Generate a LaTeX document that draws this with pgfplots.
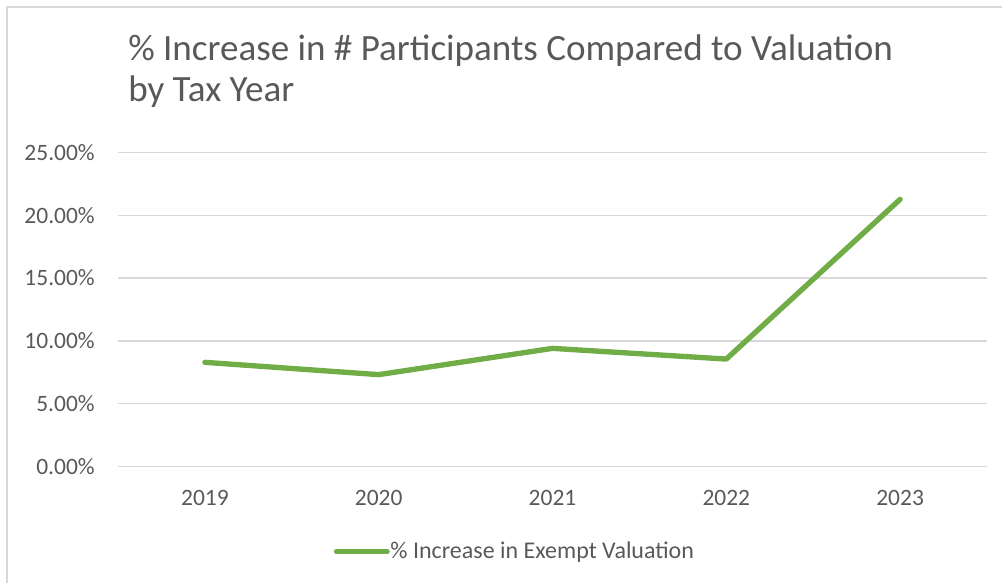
\documentclass[border=0pt]{standalone}
\usepackage{pgfplots}
\pgfplotsset{compat=1.18}
\usepackage{fontspec}
\setmainfont{Carlito}
\definecolor{txtgray}{HTML}{595959}
\definecolor{gridgray}{HTML}{D9D9D9}
\definecolor{exgreen}{HTML}{70AD47}
\begin{document}
\begin{tikzpicture}
\useasboundingbox (0,0) rectangle (751.5pt,437.25pt);
\draw[gridgray, line width=1pt] (5.25pt,0pt) -- (5.25pt,432pt) -- (751.5pt,432pt);
\node[anchor=base west, inner sep=0pt, text=txtgray, font=\fontsize{27.8pt}{32pt}\selectfont] at (96pt,391.7pt) {\% Increase in \# Participants Compared to Valuation};
\node[anchor=base west, inner sep=0pt, text=txtgray, font=\fontsize{27.8pt}{32pt}\selectfont] at (96pt,361pt) {by Tax Year};
\begin{axis}[
  at={(88.5pt,87.225pt)}, anchor=south west,
  width=651.75pt, height=235.8pt, scale only axis,
  xmin=-0.5, xmax=4.5, ymin=0, ymax=25,
  xtick={0,1,2,3,4},
  xticklabels={2019,2020,2021,2022,2023},
  ytick={0,5,10,15,20,25},
  yticklabel={\pgfmathprintnumber[fixed,fixed zerofill,precision=2]{\tick}\%},
  /pgf/number format/assume math mode=true,
  major tick length=0pt,
  axis line style={draw=none},
  ymajorgrids, grid style={gridgray, line width=0.9pt},
  tick label style={text=txtgray, font=\fontsize{17.6pt}{20pt}\selectfont},
  xticklabel style={anchor=north, inner sep=0pt, yshift=-17.25pt},
  yticklabel style={anchor=east, inner sep=0pt, xshift=-17.25pt},
  clip=false,
  legend style={at={(rel axis cs:0.456,-0.270)}, anchor=center, draw=none, fill=none,
    font=\fontsize{18pt}{21pt}\selectfont, text=txtgray, inner sep=0pt,
    nodes={inner sep=0.5pt}},
  legend image code/.code={\draw[#1, line cap=round] (0pt,0pt) -- (38pt,0pt);},
]
\addplot[exgreen, line width=4pt, line cap=round, line join=round] coordinates {
  (0,8.30) (1,7.32) (2,9.41) (3,8.56) (4,21.26)
};
\addlegendentry{\% Increase in Exempt Valuation}
\end{axis}
\end{tikzpicture}
\end{document}
